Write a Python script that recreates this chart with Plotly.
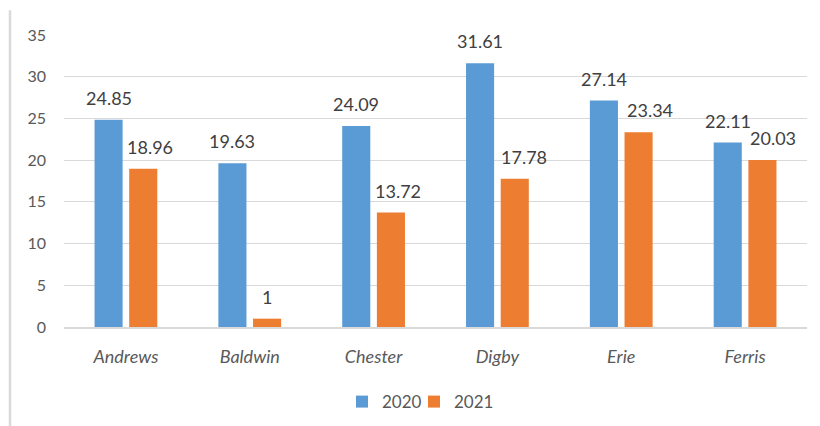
import plotly.graph_objects as go

# Data
categories = ["Andrews", "Baldwin", "Chester", "Digby", "Erie", "Ferris"]
values_2020 = [24.85, 19.63, 24.09, 31.61, 27.14, 22.11]
values_2021 = [18.96, 1, 13.72, 17.78, 23.34, 20.03]
series_names = ["2020", "2021"]
y_ticks = [0, 5, 10, 15, 20, 25, 30, 35]

# Label nudges (px) for the 2021 value labels
label_dx_2021 = [7, 0, 7, 9, 11, 11]

BLUE = "#5B9BD5"
ORANGE = "#ED7D31"
FONT = "Lato"

fig = go.Figure()
fig.add_trace(go.Bar(x=categories, y=values_2020, name=series_names[0],
                     legend="legend",
                     marker=dict(color=BLUE, line=dict(width=0))))
fig.add_trace(go.Bar(x=categories, y=values_2021, name=series_names[1],
                     legend="legend2",
                     marker=dict(color=ORANGE, line=dict(width=0))))

# Value labels above each bar
annotations = []
for vals, base_shift, extra in ((values_2020, -17.4, [0] * len(categories)),
                                (values_2021, 17.4, label_dx_2021)):
    for cat, v, dx in zip(categories, vals, extra):
        annotations.append(dict(
            x=cat, y=v, xref="x", yref="y", text=f"{v:g}",
            showarrow=False, xshift=base_shift + dx, yshift=9, yanchor="bottom",
            font=dict(family=FONT, size=18, color="#404040")))

legend_style = dict(orientation="h", xanchor="left", y=-0.257, yanchor="middle",
                    font=dict(family=FONT, size=17, color="#595959"),
                    itemwidth=30, bgcolor="rgba(0,0,0,0)")

fig.update_layout(
    width=820, height=426,
    margin=dict(l=64, r=13, t=35, b=99, autoexpand=False),
    paper_bgcolor="white", plot_bgcolor="white",
    barmode="group", bargap=0.44, bargroupgap=0.19,
    font=dict(family=FONT, color="#595959"),
    showlegend=True,
    legend=dict(x=(342 - 64) / 743, **legend_style),
    legend2=dict(x=(414 - 64) / 743, **legend_style),
    annotations=annotations,
    shapes=[dict(type="line", xref="paper", yref="paper",
                 x0=-0.0727, x1=-0.0727, y0=1.085, y1=-0.35,
                 line=dict(color="#d9d9d9", width=2.5))],
)

fig.update_xaxes(
    showgrid=False, showline=True, linecolor="#d9d9d9", linewidth=1.5,
    tickfont=dict(family=FONT, style="italic", size=18, color="#595959"),
    ticks="", ticklabelstandoff=13, automargin=False,
)
fig.update_yaxes(
    range=[0, 35], tickvals=y_ticks, showgrid=True, gridcolor="#d9d9d9",
    gridwidth=1.3, zeroline=False, showline=False, ticks="",
    tickfont=dict(family=FONT, size=16, color="#595959"),
    ticklabelstandoff=17, automargin=False,
)

fig.write_html("out.html")
